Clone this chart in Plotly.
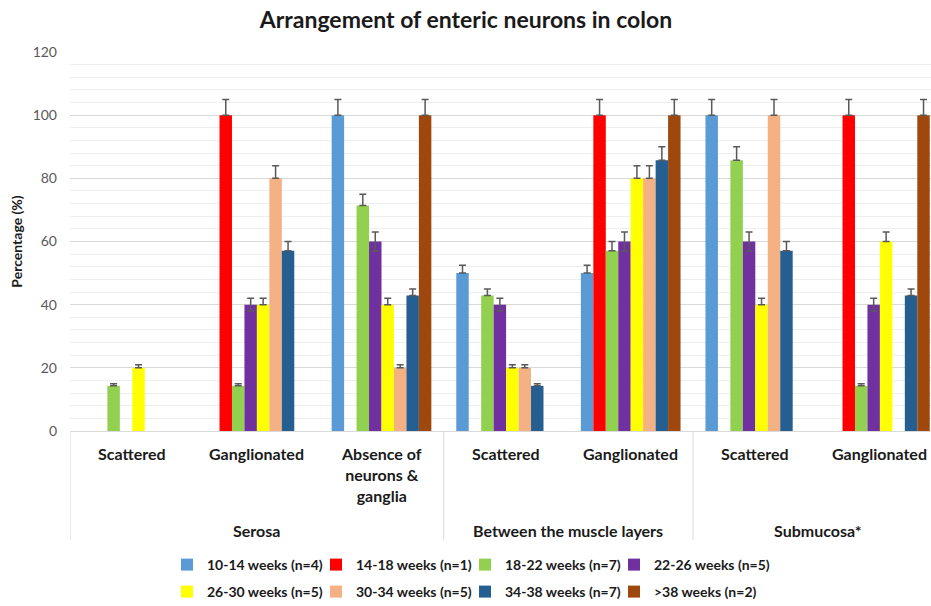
import plotly.graph_objects as go

# ---------------- data ----------------
subcategories = ["Scattered", "Ganglionated", "Absence of<br>neurons &<br>ganglia",
                 "Scattered", "Ganglionated", "Scattered", "Ganglionated"]
groups = ["Serosa", "Between the muscle layers", "Submucosa*"]
group_spans = [(0, 2), (3, 4), (5, 6)]  # index ranges of subcategories in each group

series_names = ["10-14 weeks (n=4)", "14-18 weeks (n=1)", "18-22 weeks (n=7)", "22-26 weeks (n=5)",
                "26-30 weeks (n=5)", "30-34 weeks (n=5)", "34-38 weeks (n=7)", ">38 weeks (n=2)"]

v_10_14 = [None, None, 100, 50, 50, 100, None]
v_14_18 = [None, 100, None, None, 100, None, 100]
v_18_22 = [14.3, 14.3, 71.4, 42.9, 57.1, 85.7, 14.3]
v_22_26 = [None, 40, 60, 40, 60, 60, 40]
v_26_30 = [20, 40, 40, 20, 80, 40, 60]
v_30_34 = [None, 80, 20, 20, 80, 100, None]
v_34_38 = [None, 57.1, 42.9, 14.3, 85.7, 57.1, 42.9]
v_38_up = [None, None, 100, None, 100, None, 100]

e_10_14 = [None, None, 5, 2.5, 2.5, 5, None]
e_14_18 = [None, 5, None, None, 5, None, 5]
e_18_22 = [0.7, 0.7, 3.6, 2.1, 2.9, 4.3, 0.7]
e_22_26 = [None, 2, 3, 2, 3, 3, 2]
e_26_30 = [1, 2, 2, 1, 4, 2, 3]
e_30_34 = [None, 4, 1, 1, 4, 5, None]
e_34_38 = [None, 2.9, 2.1, 0.7, 4.3, 2.9, 2.1]
e_38_up = [None, None, 5, None, 5, None, 5]

series_values = [v_10_14, v_14_18, v_18_22, v_22_26, v_26_30, v_30_34, v_34_38, v_38_up]
series_errors = [e_10_14, e_14_18, e_18_22, e_22_26, e_26_30, e_30_34, e_34_38, e_38_up]
series_colors = ["#5B9BD5", "#FF0000", "#92D050", "#7030A0",
                 "#FFFF00", "#F4B183", "#255E91", "#9E480E"]
symmetric_error = [False, False, False, True, False, False, False, False]

y_ticks = [0, 20, 40, 60, 80, 100, 120]

FONT = "Lato"
TXT = "#1a1a1a"
x_pos = list(range(len(subcategories)))

W, H = 931, 606
plot_top, plot_bottom, plot_left = 52, 431, 70
plot_h = plot_bottom - plot_top

fig = go.Figure()
for i, (name, vals, errs, col) in enumerate(zip(series_names, series_values, series_errors, series_colors)):
    fig.add_trace(go.Bar(
        x=x_pos, y=vals, name=name,
        marker=dict(color=col, line=dict(width=0)),
        error_y=dict(type="data", array=errs, symmetric=symmetric_error[i],
                     arrayminus=errs if symmetric_error[i] else [0 if e is not None else None for e in errs],
                     color="#595959", thickness=1.5, width=3.5),
        legend="legend" if i < 4 else "legend2",
        legendwidth=135 if i in (3, 7) else None,
    ))

# sub-category labels
for xi, lab in zip(x_pos, subcategories):
    fig.add_annotation(x=xi, y=-11 / plot_h, xref="x", yref="paper", text=lab,
                       showarrow=False, yanchor="top", align="center",
                       font=dict(family=FONT, size=16, color=TXT, weight="bold"))

# group labels + dividers
for g, (a, b) in zip(groups, group_spans):
    fig.add_annotation(x=(a + b) / 2, y=-99 / plot_h, xref="x", yref="paper", text=g,
                       showarrow=False, yanchor="middle",
                       font=dict(family=FONT, size=16, color=TXT, weight="bold"))
for a, b in group_spans:
    fig.add_shape(type="line", xref="x", yref="paper", x0=a - 0.5, x1=a - 0.5,
                  y0=0, y1=-109 / plot_h, line=dict(color="#d9d9d9", width=1))

legend_common = dict(orientation="h", xref="container", yref="container",
                     x=(183 - 16) / W, xanchor="left",
                     yanchor="middle", itemwidth=30, traceorder="normal",
                     entrywidth=104, entrywidthmode="pixels",
                     font=dict(family=FONT, size=14, color=TXT, weight="bold"))

fig.update_layout(
    width=W, height=H,
    margin=dict(l=plot_left, r=0, t=plot_top, b=H - plot_bottom),
    paper_bgcolor="white", plot_bgcolor="white",
    barmode="group", bargap=0.2, bargroupgap=0,
    title=dict(text="Arrangement of enteric neurons in colon", x=466 / W, xref="container",
               xanchor="center", y=1 - 20 / H, yref="container", yanchor="middle",
               font=dict(family=FONT, size=23, color=TXT, weight="bold")),
    font=dict(family=FONT),
    xaxis=dict(range=[-0.5, 6.41], showticklabels=False, showgrid=False,
               showline=True, linecolor="#d9d9d9", linewidth=1, zeroline=False, fixedrange=True),
    yaxis=dict(range=[0, 120], tickvals=y_ticks, showgrid=True, gridcolor="#d9d9d9", gridwidth=1,
               minor=dict(dtick=4, showgrid=True, gridcolor="#eeeeee", gridwidth=1),
               zeroline=False, showline=False, ticklabelstandoff=12,
               tickfont=dict(family=FONT, size=14, color="#595959"),
               title=dict(text="Percentage (%)", standoff=6,
                          font=dict(family=FONT, size=14, color=TXT, weight="bold"))),
    showlegend=True,
    legend=dict(legend_common, y=1 - 565 / H),
    legend2=dict(legend_common, y=1 - 592 / H),
)

# remove the browser's default 8px page margin so the figure fills the window exactly
fig.write_html("out.html", config={"displayModeBar": False},
               post_script="document.body.style.margin='0';")
